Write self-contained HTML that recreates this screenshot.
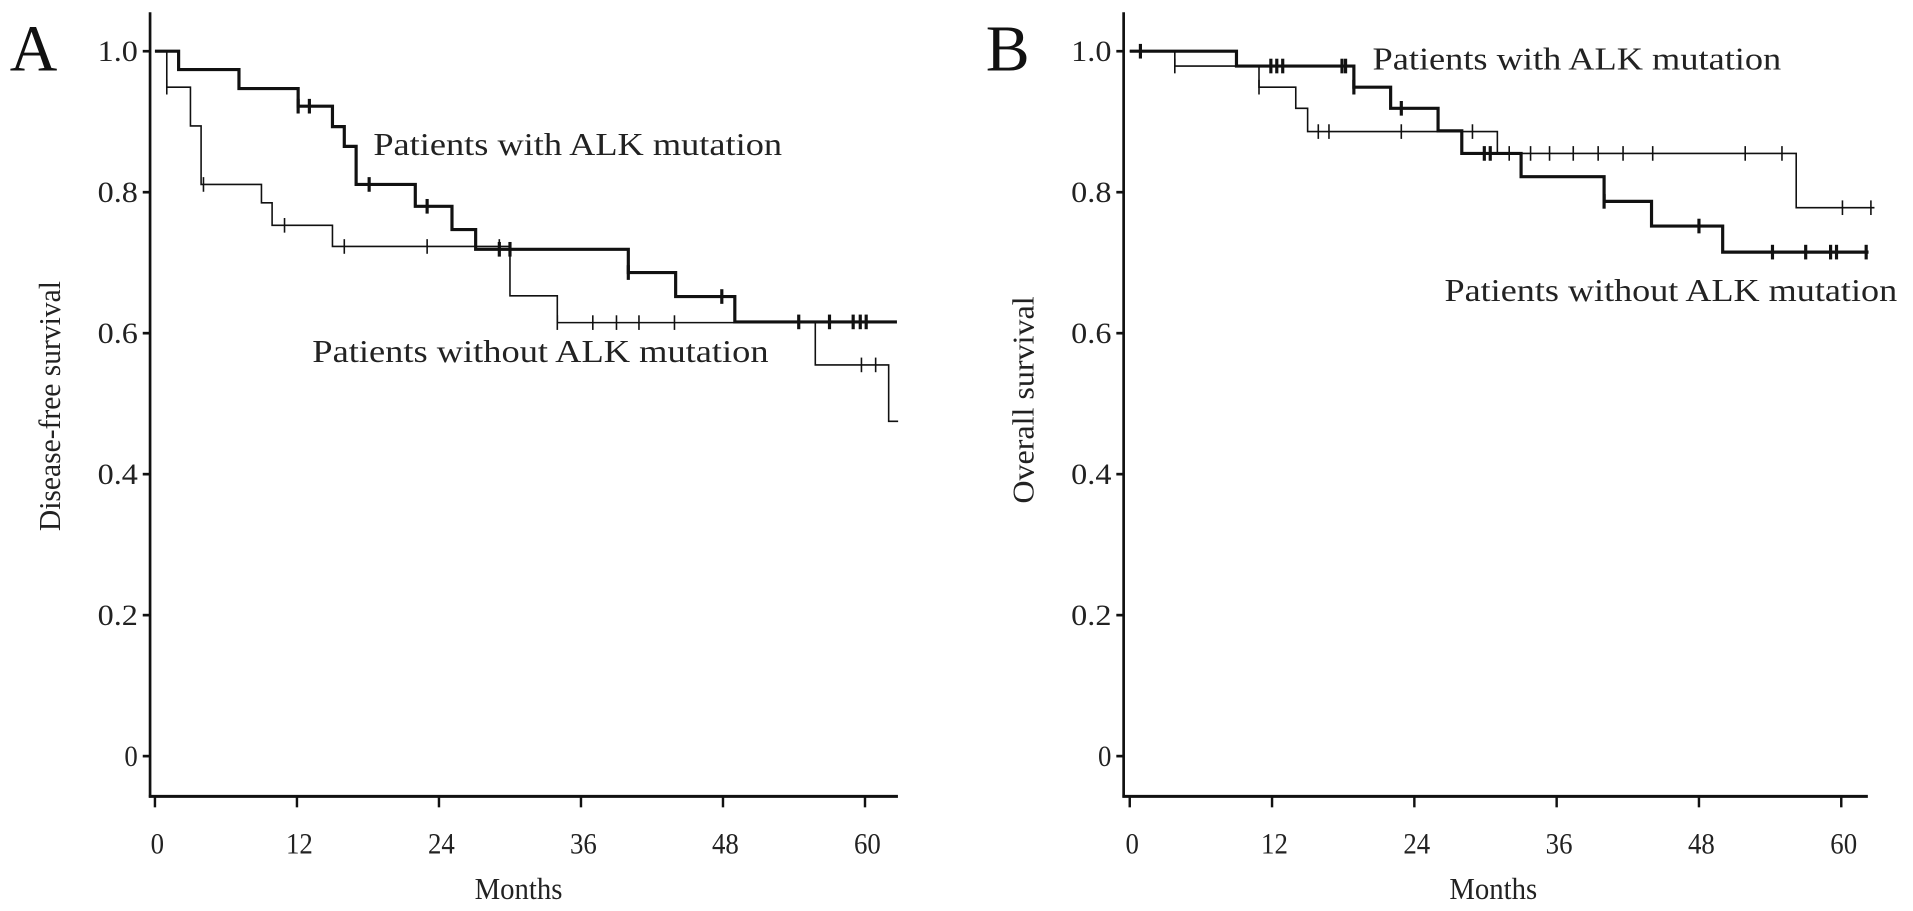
<!DOCTYPE html>
<html><head><meta charset="utf-8"><style>
html,body{margin:0;padding:0;background:#fff;}
svg{display:block;font-family:"Liberation Serif",serif;}
</style></head><body>
<svg id="fig" width="1913" height="911" viewBox="0 0 1568 747" preserveAspectRatio="none" xmlns="http://www.w3.org/2000/svg">
<rect width="1568" height="747" fill="#fff"/>
</svg>
<script>
// ---- data ----
const xTicks = [0, 12, 24, 36, 48, 60];
const yTicks = [0, 0.2, 0.4, 0.6, 0.8, 1.0];
const yTickLabels = ["0", "0.2", "0.4", "0.6", "0.8", "1.0"];
// Panel A - disease-free survival
const aPosTimes = [0, 2, 7.1, 12.1, 15, 16, 17, 22, 25.1, 27.1, 40, 44, 49];
const aPosValues = [1.0, 0.974, 0.947, 0.922, 0.893, 0.865, 0.811, 0.780, 0.747, 0.719, 0.686, 0.652, 0.616];
const aPosEnd = 62.7;
const aPosCensor = [12.1, 13.05, 18.1, 23, 29.1, 30, 40, 47.9, 54.4, 57, 59, 59.6, 60.1];
const aNegTimes = [0, 1, 3, 3.9, 9, 9.9, 15, 30, 34, 55.8, 62];
const aNegValues = [1.0, 0.949, 0.894, 0.811, 0.785, 0.753, 0.723, 0.653, 0.615, 0.555, 0.475];
const aNegEnd = 62.8;
const aNegCensor = [1, 4.1, 10.95, 16, 23, 29.1, 34, 37, 39, 40.9, 43.9, 59.7, 60.9];
// Panel B - overall survival
const bPosTimes = [0, 9, 18.9, 22, 26, 28, 33, 40, 44, 50];
const bPosValues = [1.0, 0.979, 0.949, 0.919, 0.887, 0.855, 0.822, 0.787, 0.752, 0.715];
const bPosEnd = 62.3;
const bPosCensor = [0.9, 11.9, 12.4, 12.9, 17.9, 18.2, 18.9, 22.9, 29.9, 30.4, 40, 48, 54.2, 57, 59.1, 59.6, 62.1];
const bNegTimes = [0, 3.8, 10.9, 14, 15, 31, 56.2];
const bNegValues = [1.0, 0.979, 0.949, 0.919, 0.886, 0.855, 0.778];
const bNegEnd = 62.8;
const bNegCensor = [3.8, 10.9, 15.9, 16.8, 22.9, 28.9, 32, 33.8, 35.4, 37.4, 39.5, 41.6, 44.1, 51.9, 55, 60.1, 62.5];

const NS = "http://www.w3.org/2000/svg";
const svg = document.getElementById("fig");
function mk(tag, attrs, parent) {
  const e = document.createElementNS(NS, tag);
  for (const k in attrs) e.setAttribute(k, attrs[k]);
  (parent || svg).appendChild(e);
  return e;
}
function stepVal(times, vals, t) {
  let v = vals[0];
  for (let i = 0; i < times.length; i++) if (times[i] <= t + 1e-9) v = vals[i];
  return v;
}
function panel(cfg) {
  const g = mk("g", {});
  
  
  const xs = m => cfg.x0 + m * cfg.xk;
  const ys = v => 620 - v * 578;
  const ya = mk("line", {x1: cfg.ax, y1: 10, x2: cfg.ax, y2: 654, stroke: "#111", "stroke-width": 2.2}, g);
  
  
  const xa = mk("line", {x1: cfg.ax - 1, y1: 653, x2: cfg.axEnd, y2: 653, stroke: "#111", "stroke-width": 2.4}, g);
  
  
  yTicks.forEach((v, i) => {
    mk("line", {x1: cfg.ax - 6, y1: ys(v), x2: cfg.ax, y2: ys(v), stroke: "#111", "stroke-width": 2.2}, g);
    const t = mk("text", {x: cfg.ax - 10, y: ys(v) + 8, "text-anchor": "end", "font-size": 24, fill: "#222", textLength: yTickLabels[i].length > 1 ? 33 : 11, lengthAdjust: "spacingAndGlyphs"}, g);
    t.textContent = yTickLabels[i];
    
    
  });
  xTicks.forEach(m => {
    mk("line", {x1: xs(m), y1: 653, x2: xs(m), y2: 662, stroke: "#111", "stroke-width": 2}, g);
    const t = mk("text", {x: xs(m) + 2, y: 700, "text-anchor": "middle", "font-size": 24, fill: "#222", textLength: m === 0 ? 11 : 22, lengthAdjust: "spacingAndGlyphs"}, g);
    t.textContent = String(m);
    
    
  });
  const xt = mk("text", {x: cfg.x0 + 298, y: 737, "text-anchor": "middle", "font-size": 25, fill: "#222", textLength: 72, lengthAdjust: "spacingAndGlyphs"}, g);
  xt.textContent = "Months";
  
  
  const yt = mk("text", {x: 0, y: 0, "text-anchor": "middle", "font-size": 25, fill: "#222", textLength: cfg.ylen, lengthAdjust: "spacingAndGlyphs", transform: `translate(${cfg.ax - 74},${cfg.ymid}) rotate(-90)`}, g);
  yt.textContent = cfg.ytitle;
  
  
  const pl = mk("text", {x: cfg.letterX, y: 58, "font-size": 54, fill: "#111"}, g);
  pl.textContent = cfg.letter;
  
  
  cfg.series.forEach(s => {
    let d = `M${xs(s.times[0])},${ys(s.vals[0])}`;
    for (let i = 1; i < s.times.length; i++) {
      d += ` H${xs(s.times[i])} V${ys(s.vals[i])}`;
    }
    d += ` H${xs(s.end)}`;
    const p = mk("path", {d: d, fill: "none", stroke: "#111", "stroke-width": s.w}, g);
    
    
    s.censor.forEach(c => {
      const v = stepVal(s.times, s.vals, c);
      const cm = mk("line", {x1: xs(c), y1: ys(v) - 6, x2: xs(c), y2: ys(v) + 6, stroke: "#111", "stroke-width": s.w}, g);
      
      
    });
  });
  cfg.labels.forEach(l => {
    const t = mk("text", {x: l.x, y: l.y, "font-size": 26, fill: "#222", textLength: l.len, lengthAdjust: "spacingAndGlyphs"}, g);
    t.textContent = l.text;
    
    
  });
}
panel({name: "panel-a-disease-free", x0: 127, xk: 9.7, ax: 123, axEnd: 736, letter: "A", letterX: 8,
  ytitle: "Disease-free survival", ylen: 205, ymid: 333,
  series: [
    {name: "series-alk-positive", times: aPosTimes, vals: aPosValues, end: aPosEnd, censor: aPosCensor, w: 2.6},
    {name: "series-alk-negative", times: aNegTimes, vals: aNegValues, end: aNegEnd, censor: aNegCensor, w: 1.3}],
  labels: [
    {name: "label-with-alk", text: "Patients with ALK mutation", x: 306, y: 127, len: 335},
    {name: "label-without-alk", text: "Patients without ALK mutation", x: 256, y: 297, len: 374}]
});
panel({name: "panel-b-overall", x0: 926, xk: 9.72, ax: 921, axEnd: 1531, letter: "B", letterX: 808,
  ytitle: "Overall  survival", ylen: 170, ymid: 328,
  series: [
    {name: "series-alk-positive", times: bPosTimes, vals: bPosValues, end: bPosEnd, censor: bPosCensor, w: 2.6},
    {name: "series-alk-negative", times: bNegTimes, vals: bNegValues, end: bNegEnd, censor: bNegCensor, w: 1.3}],
  labels: [
    {name: "label-with-alk", text: "Patients with ALK mutation", x: 1125, y: 57, len: 335},
    {name: "label-without-alk", text: "Patients without ALK mutation", x: 1184, y: 247, len: 371}]
});
</script>
</body></html>
